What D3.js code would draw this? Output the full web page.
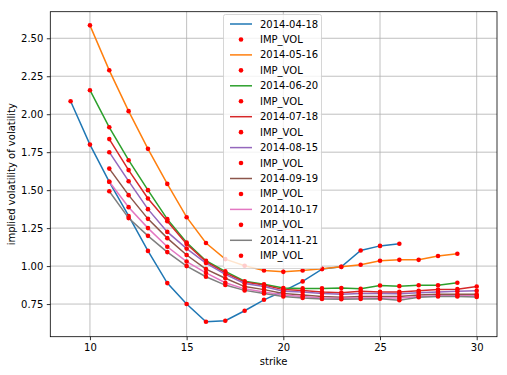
<!DOCTYPE html>
<html>
<head>
<meta charset="utf-8">
<script src="https://cdn.jsdelivr.net/npm/d3@7"></script>
<style>
  body { margin: 0; background: #fff; }
  text { font-family: "DejaVu Sans", sans-serif; font-size: 10px; fill: #000; }
</style>
</head>
<body>
<div id="chart"></div>
<script>
// expiry dates (legend names)
const EXPIRIES = ['2014-04-18', '2014-05-16', '2014-06-20', '2014-07-18',
                  '2014-08-15', '2014-09-19', '2014-10-17', '2014-11-21']

// strikes for each expiry
const STRIKES_0418 = [9, 10, 11, 12, 13, 14, 15, 16, 17, 18, 19, 20, 21, 22, 23, 24, 25, 26]
const STRIKES_0516 = [10, 11, 12, 13, 14, 15, 16, 17, 18, 19, 20, 21, 22, 23, 24, 25, 26, 27, 28, 29]
const STRIKES_0620 = [10, 11, 12, 13, 14, 15, 16, 17, 18, 19, 20, 21, 22, 23, 24, 25, 26, 27, 28, 29]
const STRIKES_LATE = [11, 12, 13, 14, 15, 16, 17, 18, 19, 20, 21, 22, 23, 24, 25, 26, 27, 28, 29, 30]

// implied vol of vol
const VOL_0418 = [2.085, 1.80, 1.555, 1.33, 1.10, 0.888, 0.75, 0.633, 0.64, 0.706, 0.778, 0.835, 0.899, 0.98, 0.995, 1.103, 1.133, 1.147]
const VOL_0516 = [2.585, 2.289, 2.02, 1.772, 1.541, 1.322, 1.152, 1.046, 1.002, 0.971, 0.962, 0.971, 0.982, 0.995, 1.009, 1.035, 1.041, 1.041, 1.066, 1.081]
const VOL_0620 = [2.158, 1.914, 1.697, 1.50, 1.309, 1.155, 1.035, 0.965, 0.90, 0.88, 0.855, 0.853, 0.853, 0.855, 0.85, 0.872, 0.868, 0.874, 0.874, 0.89]
const VOL_0718 = [1.836, 1.632, 1.445, 1.295, 1.145, 1.03, 0.955, 0.895, 0.875, 0.845, 0.84, 0.83, 0.825, 0.835, 0.83, 0.83, 0.838, 0.845, 0.848, 0.866]
const VOL_0815 = [1.75, 1.559, 1.375, 1.225, 1.115, 1.02, 0.945, 0.885, 0.865, 0.835, 0.83, 0.82, 0.815, 0.82, 0.82, 0.818, 0.825, 0.83, 0.835, 0.838]
const VOL_0919 = [1.642, 1.467, 1.311, 1.184, 1.073, 0.98, 0.92, 0.865, 0.845, 0.82, 0.81, 0.80, 0.795, 0.80, 0.80, 0.80, 0.81, 0.815, 0.815, 0.815]
const VOL_1017 = [1.555, 1.388, 1.25, 1.127, 1.03, 0.955, 0.89, 0.85, 0.83, 0.81, 0.80, 0.79, 0.788, 0.79, 0.79, 0.79, 0.80, 0.805, 0.805, 0.805]
const VOL_1121 = [1.493, 1.316, 1.199, 1.092, 1.0, 0.93, 0.875, 0.84, 0.82, 0.80, 0.79, 0.783, 0.782, 0.783, 0.785, 0.775, 0.795, 0.80, 0.80, 0.796]

// tick labels
const X_TICKS = [10, 15, 20, 25, 30]
const Y_TICKS = [0.75, 1.00, 1.25, 1.50, 1.75, 2.00, 2.25, 2.50]

const COLORS = ['#1f77b4', '#ff7f0e', '#2ca02c', '#d62728', '#9467bd', '#8c564b', '#e377c2', '#7f7f7f']

const SERIES = [
    [STRIKES_0418, VOL_0418], [STRIKES_0516, VOL_0516], [STRIKES_0620, VOL_0620],
    [STRIKES_LATE, VOL_0718], [STRIKES_LATE, VOL_0815], [STRIKES_LATE, VOL_0919],
    [STRIKES_LATE, VOL_1017], [STRIKES_LATE, VOL_1121]
].map((s, i) => ({ name: EXPIRIES[i], color: COLORS[i], pts: s[0].map((k, j) => [k, s[1][j]]) }))

const WIDTH = 507
const HEIGHT = 375
const LEFT = 50.3, RIGHT = 497, TOP = 11.7, BOTTOM = 336.7

var svg = d3.select('#chart').append('svg')
    .attr('width', WIDTH)
    .attr('height', HEIGHT)

var x = d3.scaleLinear().domain([7.95, 31.05]).range([LEFT, RIGHT])
var y = d3.scaleLinear().domain([0.535, 2.675]).range([BOTTOM, TOP])

// grid
svg.append('g').selectAll('line').data(X_TICKS).enter().append('line')
    .attr('x1', d => x(d)).attr('x2', d => x(d))
    .attr('y1', TOP).attr('y2', BOTTOM)
    .attr('stroke', '#b0b0b0').attr('stroke-width', 0.8)
svg.append('g').selectAll('line').data(Y_TICKS).enter().append('line')
    .attr('x1', LEFT).attr('x2', RIGHT)
    .attr('y1', d => y(d)).attr('y2', d => y(d))
    .attr('stroke', '#b0b0b0').attr('stroke-width', 0.8)

// series: line then red dots, in order
var line = d3.line().x(d => x(d[0])).y(d => y(d[1]))
var plot = svg.append('g')
SERIES.forEach(s => {
    plot.append('path')
        .attr('d', line(s.pts))
        .attr('fill', 'none')
        .attr('stroke', s.color)
        .attr('stroke-width', 1.5)
    plot.append('g').selectAll('circle').data(s.pts).enter().append('circle')
        .attr('cx', d => x(d[0]))
        .attr('cy', d => y(d[1]))
        .attr('r', 2.3)
        .attr('fill', 'red')
})

// axes
var xAxis = svg.append('g')
    .attr('transform', 'translate(0,' + BOTTOM + ')')
    .call(d3.axisBottom(x).tickValues(X_TICKS).tickSize(3.5).tickPadding(3.5).tickFormat(d3.format('d')))
var yAxis = svg.append('g')
    .attr('transform', 'translate(' + LEFT + ',0)')
    .call(d3.axisLeft(y).tickValues(Y_TICKS).tickSize(3.5).tickPadding(3.5).tickFormat(d3.format('.2f')))
;[xAxis, yAxis].forEach(a => {
    a.select('.domain').remove()
    a.selectAll('line').attr('stroke', '#000').attr('stroke-width', 0.8)
    a.selectAll('text').attr('font-family', null).attr('font-size', null).attr('fill', '#000')
})

svg.append('rect')
    .attr('x', LEFT).attr('y', TOP)
    .attr('width', RIGHT - LEFT).attr('height', BOTTOM - TOP)
    .attr('fill', 'none').attr('stroke', '#000').attr('stroke-width', 0.8)

// axis labels
svg.append('text')
    .attr('x', (LEFT + RIGHT) / 2).attr('y', 365)
    .attr('text-anchor', 'middle')
    .text('strike')
svg.append('text')
    .attr('transform', 'translate(15,' + (TOP + BOTTOM) / 2 + ') rotate(-90)')
    .attr('text-anchor', 'middle')
    .text('implied volatility of volatility')

// legend
var legend = svg.append('g')
legend.append('rect')
    .attr('x', 223.5).attr('y', 14.5)
    .attr('width', 98).attr('height', 254)
    .attr('rx', 2)
    .attr('fill', '#fff').attr('fill-opacity', 0.8)
    .attr('stroke', '#cccccc').attr('stroke-width', 0.8)

var entries = []
SERIES.forEach(s => { entries.push({ kind: 'line', color: s.color, label: s.name }); entries.push({ kind: 'dot', label: 'IMP_VOL' }) })

legend.selectAll('.entry').data(entries).enter().append('g').classed('entry', true).each(
    function(d, i){
        let cy = 24 + i * 15.45
        let g = d3.select(this)
        if (d.kind == 'line') {
            g.append('line')
                .attr('x1', 230).attr('x2', 252)
                .attr('y1', cy).attr('y2', cy)
                .attr('stroke', d.color).attr('stroke-width', 1.5)
        } else {
            g.append('circle')
                .attr('cx', 241).attr('cy', cy).attr('r', 2.3)
                .attr('fill', 'red')
        }
        g.append('text')
            .attr('x', 260).attr('y', cy)
            .attr('dy', '0.35em')
            .text(d.label)
    }
)
</script>
</body>
</html>
